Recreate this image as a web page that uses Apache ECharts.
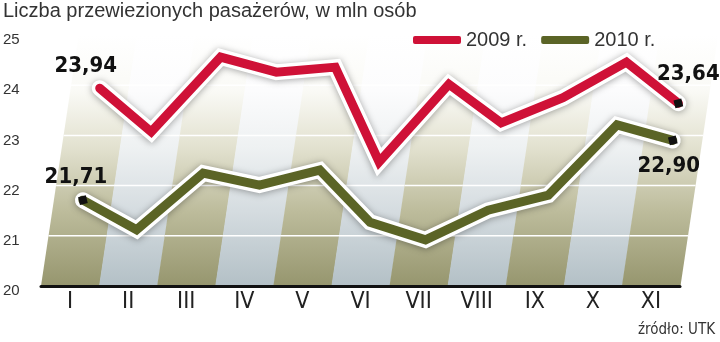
<!DOCTYPE html>
<html><head><meta charset="utf-8">
<script src="https://cdn.jsdelivr.net/npm/echarts@6/dist/echarts.min.js"></script>
<style>html,body{margin:0;padding:0;background:#fff}#c{width:720px;height:342px}</style>
</head><body><div id="c"></div>
<script>
// ---- data ----
const months = ['I','II','III','IV','V','VI','VII','VIII','IX','X','XI'];
const y2009 = [23.94,23.07,24.56,24.26,24.36,22.47,24.02,23.25,23.75,24.46,23.64];
const y2010 = [21.71,21.12,22.25,22.01,22.31,21.27,20.92,21.51,21.81,23.21,22.90];
const yTicks = [20,21,22,23,24,25];
const seriesNames = ['2009 r.','2010 r.'];
const titleText = 'Liczba przewiezionych pasażerów, w mln osób';
const sourceText = 'źródło: UTK';

// ---- style ----
const SHEAR = 0.15;
const RED = '#cf1137', GREEN = '#5b6426';
const NARROW = '"Liberation Sans Narrow","DejaVu Sans Condensed","Liberation Sans",sans-serif';
const PLAIN = '"Liberation Sans",sans-serif';

function fmt(v){ return v.toFixed(2).replace('.', ','); }

function shearPt(api, i, v){
  const p = api.coord([i, v]);
  const base = api.coord([i, yTicks[0]])[1];
  return [p[0] + SHEAR*(base - p[1]), p[1]];
}

const oliveGrad = () => new echarts.graphic.LinearGradient(0,0,0,1,[
  {offset:0,color:'#ffffff'},{offset:0.22,color:'#fafaf6'},{offset:0.45,color:'#e2e1cf'},{offset:0.7,color:'#bdbc9c'},{offset:1,color:'#96966e'}]);
const blueGrad = () => new echarts.graphic.LinearGradient(0,0,0,1,[
  {offset:0,color:'#ffffff'},{offset:0.22,color:'#fcfcfd'},{offset:0.45,color:'#eef1f2'},{offset:0.7,color:'#d5dce0'},{offset:1,color:'#b3c0c6'}]);

function renderStripe(params, api){
  const i = api.value(0);
  const bw = api.size([1,0])[0];
  const b = api.coord([i, yTicks[0]]);
  const t = api.coord([i, yTicks[yTicks.length-1]]);
  const dx = SHEAR*(b[1]-t[1]);
  const xl = b[0]-bw/2, xr = b[0]+bw/2;
  const children = [{
    type:'polygon',
    shape:{points:[[xl,b[1]],[xr+0.5,b[1]],[xr+dx+0.5,t[1]],[xl+dx,t[1]]]},
    style:{fill: i%2===0 ? oliveGrad() : blueGrad()}
  }];
  yTicks.slice(1,-1).forEach(g=>{
    const y = api.coord([i,g])[1];
    const d = SHEAR*(b[1]-y);
    children.push({type:'line', shape:{x1:xl+d,y1:y,x2:xr+d+0.5,y2:y}, style:{stroke:'#ffffff',lineWidth:1.5}});
  });
  return {type:'group', children};
}

function makeLineRender(color, markFirst, firstOff, lastOff){
  return function(params, api){
    if (params.dataIndexInside !== 0) return null;
    const n = params.dataInsideLength;
    const pts = [];
    for (let j=0;j<n;j++) pts.push(shearPt(api, api.value(0,j), api.value(1,j)));
    const children = [
      {type:'polyline', shape:{points:pts}, style:{stroke:'#ffffff',lineWidth:16,lineJoin:'miter',lineCap:'round',fill:null,
        shadowBlur:7,shadowColor:'rgba(0,0,0,0.35)',shadowOffsetY:1}},
      {type:'polyline', shape:{points:pts}, style:{stroke:color,lineWidth:9,lineJoin:'miter',lineCap:'round',fill:null}}
    ];
    const marks = markFirst ? [0,n-1] : [n-1];
    marks.forEach(k=>{
      children.push({type:'rect', x:pts[k][0], y:pts[k][1], rotation:0.25,
        shape:{x:-4,y:-4,width:8,height:8}, style:{fill:'#111'}});
    });
    const f = pts[0], l = pts[n-1];
    children.push({type:'text', style:{text:fmt(api.value(1,0)), x:f[0]+firstOff[0], y:f[1]+firstOff[1],
      fill:'#111', font:'bold 22px '+NARROW, align:'center', verticalAlign:'middle'}});
    children.push({type:'text', style:{text:fmt(api.value(1,n-1)), x:l[0]+lastOff[0], y:l[1]+lastOff[1],
      fill:'#111', font:'bold 22px '+NARROW, align:'center', verticalAlign:'middle'}});
    return {type:'group', children};
  };
}

const chart = echarts.init(document.getElementById('c'), null, {renderer:'canvas'});
chart.setOption({
  animation:false,
  backgroundColor:'#ffffff',
  title:{text:titleText, left:0, top:0, padding:[1,3],
    textStyle:{fontSize:20, fontWeight:'normal', color:'#333', fontFamily:PLAIN}},
  legend:{data:seriesNames, left:408, top:25, icon:'roundRect', itemWidth:48, itemHeight:8, itemGap:14,
    textStyle:{fontSize:20, color:'#333', fontFamily:PLAIN}},
  grid:{left:41, right:40, top:35, bottom:56},
  xAxis:{type:'category', data:months, boundaryGap:true, z:3,
    axisLine:{lineStyle:{color:'#111', width:3}}, axisTick:{show:false},
    axisLabel:{fontSize:23, color:'#222', margin:5, fontFamily:NARROW}},
  yAxis:{type:'value', min:yTicks[0], max:yTicks[yTicks.length-1], interval:1,
    axisLine:{show:false}, axisTick:{show:false}, splitLine:{show:false},
    axisLabel:{align:'left', margin:38, fontSize:15, color:'#333', verticalAlign:'top', lineHeight:10, fontFamily:PLAIN}},
  graphic:[{type:'text', right:5, top:323, style:{text:sourceText, fontSize:15, fill:'#333', fontFamily:NARROW}}],
  series:[
    {type:'custom', silent:true, z:1, renderItem:renderStripe, data:months.map((m,i)=>[i]), encode:{x:0}},
    {type:'custom', name:seriesNames[0], z:5, itemStyle:{color:RED},
      renderItem:makeLineRender(RED,false,[-14,-22],[10,-29]), data:y2009.map((v,i)=>[i,v]), encode:{x:0,y:1}},
    {type:'custom', name:seriesNames[1], z:4, itemStyle:{color:GREEN},
      renderItem:makeLineRender(GREEN,true,[-7,-23],[-4,26]), data:y2010.map((v,i)=>[i,v]), encode:{x:0,y:1}}
  ]
});
</script></body></html>
